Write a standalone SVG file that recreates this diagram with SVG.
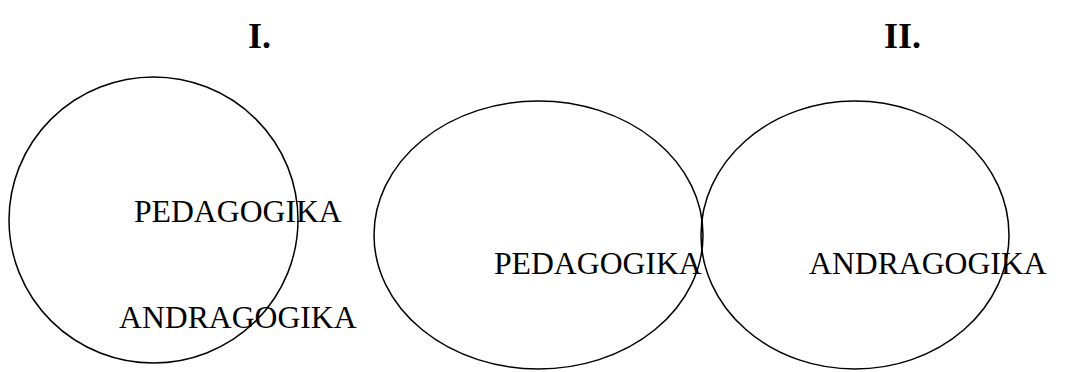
<svg xmlns="http://www.w3.org/2000/svg" width="1072" height="372" viewBox="0 0 1072 372">
<style>
.c{fill:none;stroke:#000;stroke-width:1.5}
.t{font-family:"Liberation Serif","Times New Roman",serif;font-size:31.7px;fill:#000}
.h{font-family:"Liberation Serif","Times New Roman",serif;font-size:36px;font-weight:bold;fill:#000}
</style>
<rect width="1072" height="372" fill="#fff"/>
<g id="title1"><text class="h" x="248" y="48">I.</text></g>
<g id="title2"><text class="h" x="884" y="48">II.</text></g>
<g id="set1">
<ellipse class="c" cx="153.5" cy="220" rx="144.5" ry="143"/>
<text class="t" x="134" y="222">PEDAGOGIKA</text>
<text class="t" x="119" y="328">ANDRAGOGIKA</text>
</g>
<g id="set2">
<ellipse class="c" cx="538.5" cy="235" rx="164.5" ry="134"/>
<text class="t" x="494" y="274">PEDAGOGIKA</text>
</g>
<g id="set3">
<ellipse class="c" cx="855" cy="235" rx="154" ry="134"/>
<text class="t" x="809" y="274">ANDRAGOGIKA</text>
</g>
<g id="connectors"/>
</svg>
